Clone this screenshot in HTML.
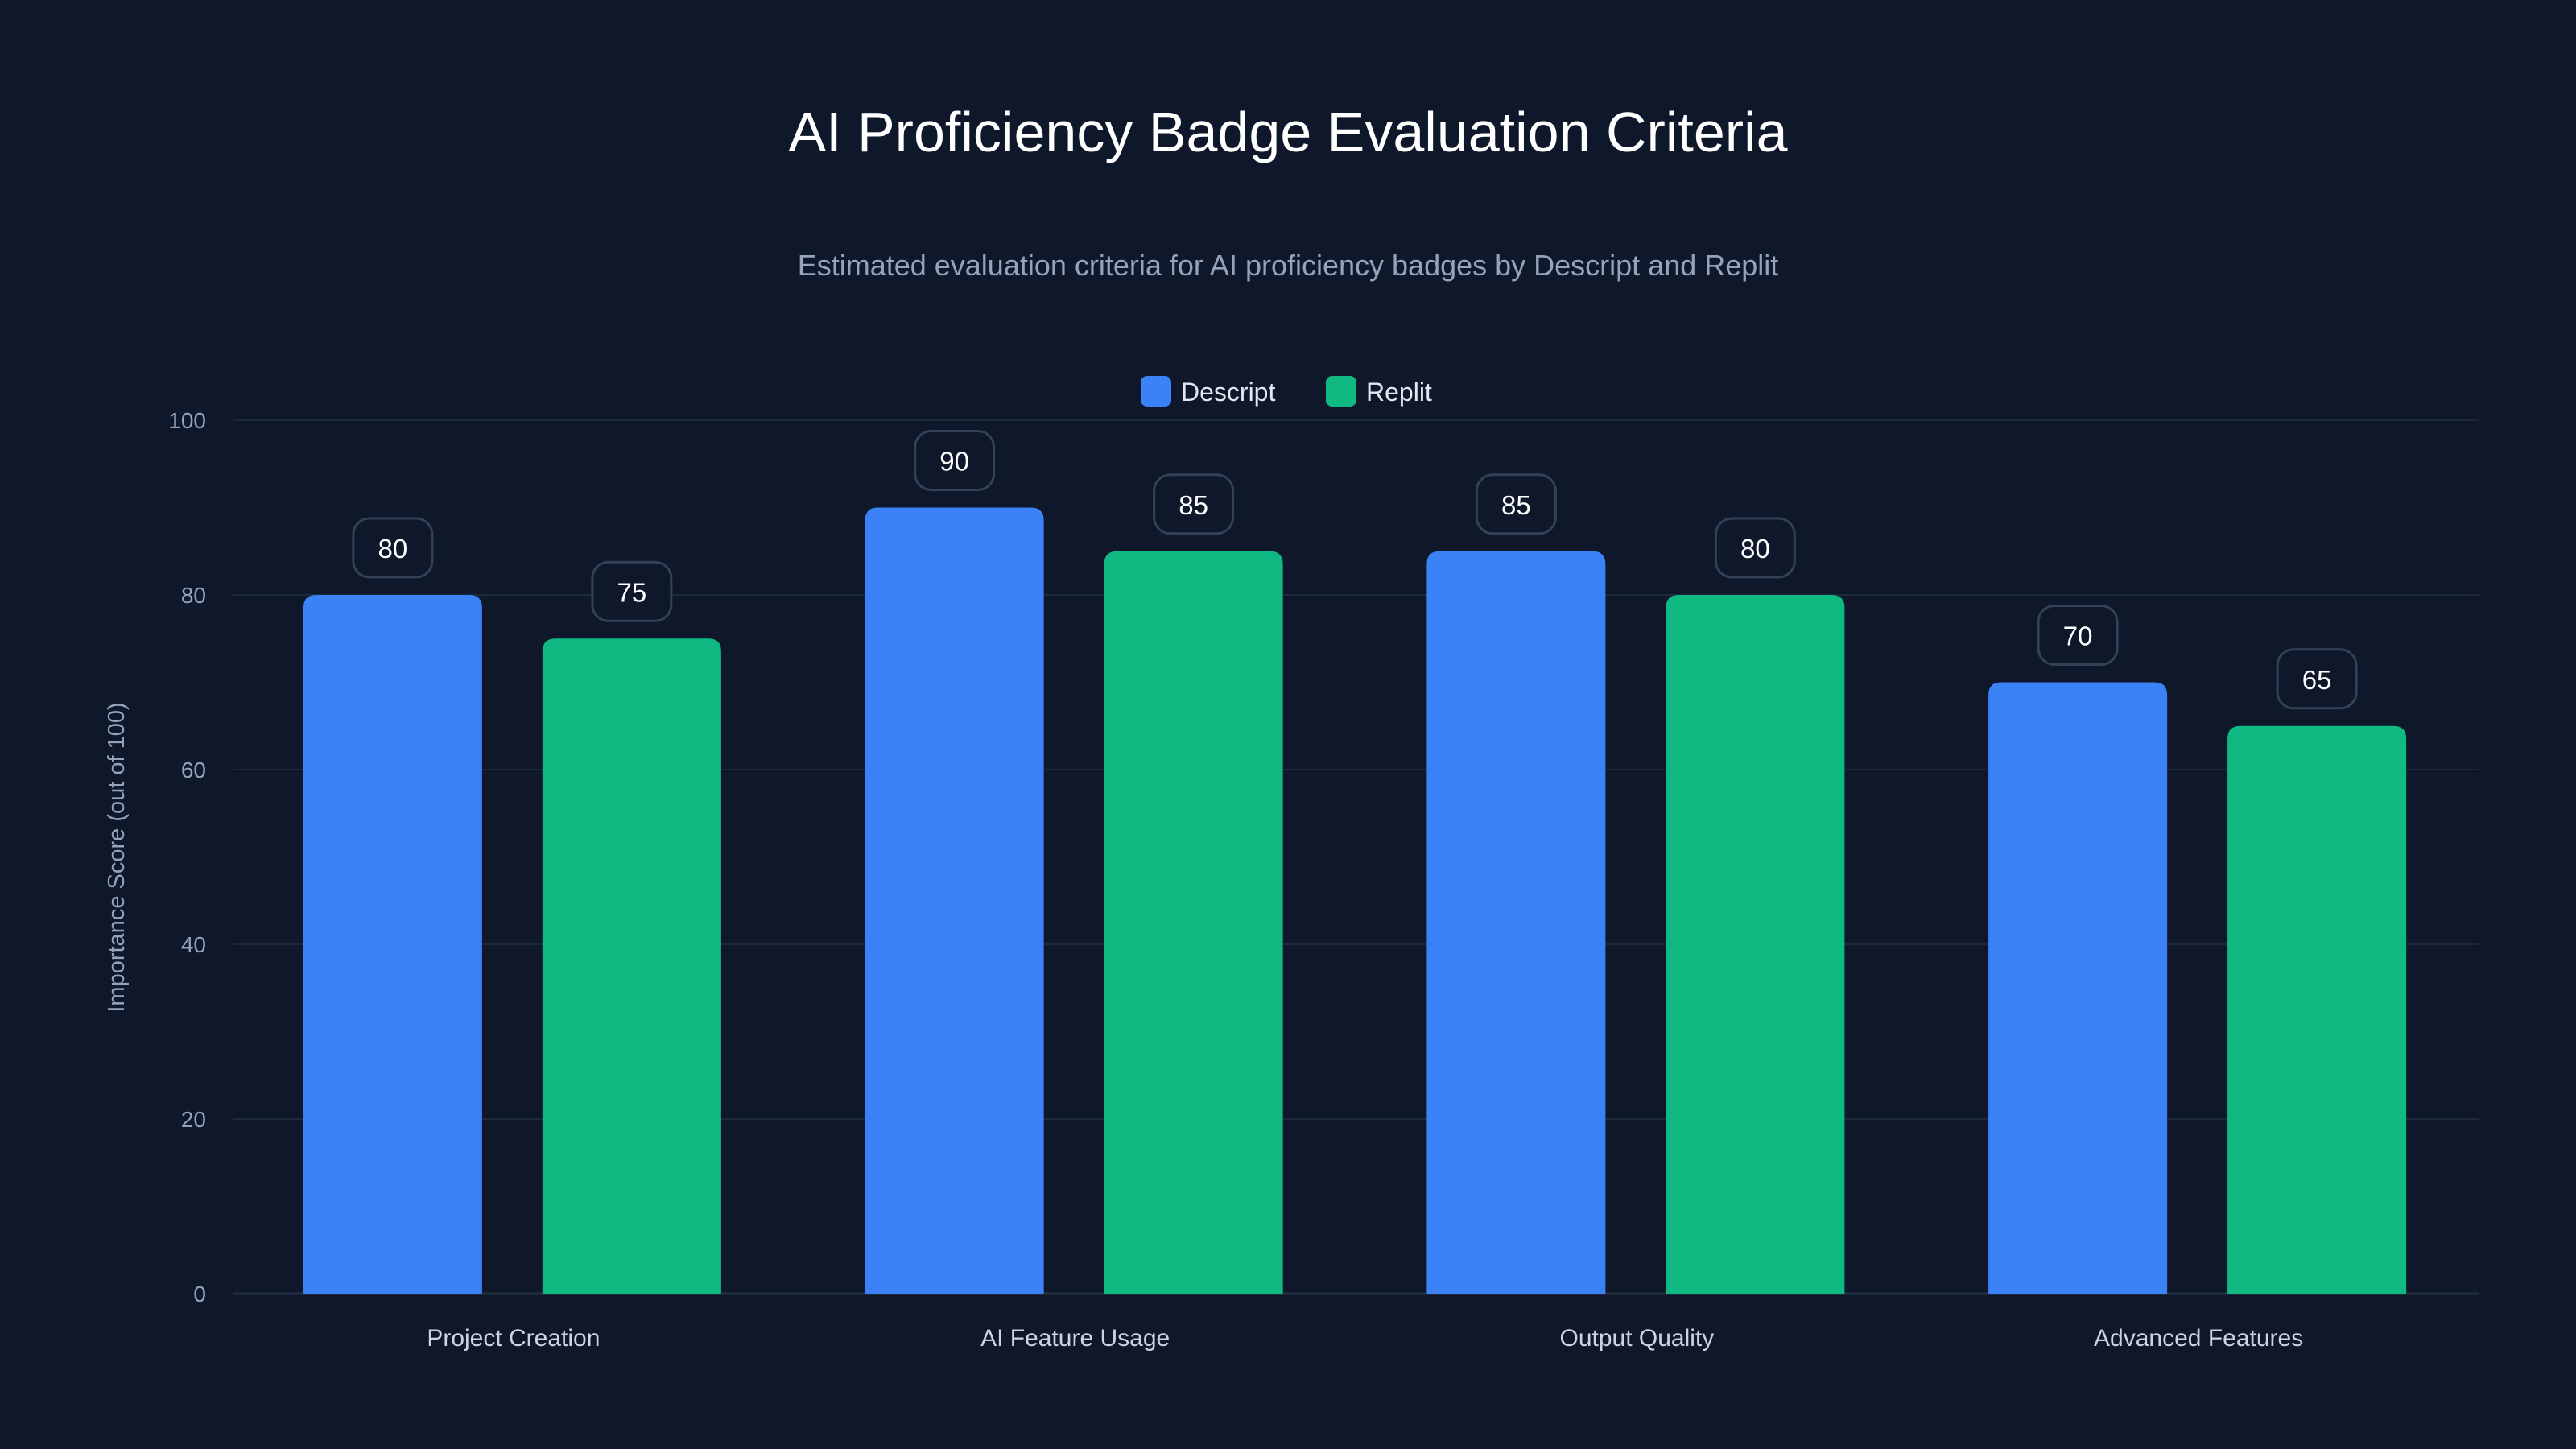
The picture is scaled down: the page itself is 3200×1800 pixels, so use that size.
<!DOCTYPE html>
<html><head><meta charset="utf-8"><style>
html,body{margin:0;padding:0;background:#0f172a;}
svg{display:block;font-family:"Liberation Sans",sans-serif;}
</style></head><body>
<svg id="chart" width="3200" height="1800" viewBox="0 0 3200 1800" xmlns="http://www.w3.org/2000/svg">
<rect x="0" y="0" width="3200" height="1800" fill="#0f172a"/>
<text x="1600" y="188" font-size="70" fill="#ffffff" text-anchor="middle">AI Proficiency Badge Evaluation Criteria</text>
<text x="1600" y="342" font-size="36" fill="#94a3b8" text-anchor="middle">Estimated evaluation criteria for AI proficiency badges by Descript and Replit</text>
<g>
<g>
<rect x="1417" y="467" width="38" height="38" rx="8" fill="#3b82f6"/>
<text x="1467" y="498" font-size="32" fill="#e2e8f0">Descript</text>
</g>
<g>
<rect x="1647" y="467" width="38" height="38" rx="8" fill="#10b981"/>
<text x="1697" y="498" font-size="32" fill="#e2e8f0">Replit</text>
</g>
</g>
<text transform="translate(154,1065) rotate(-90)" font-size="29" fill="#94a3b8" text-anchor="middle">Importance Score (out of 100)</text>
<g id="grid"></g>
<g id="yticks"></g>
<g id="bars"></g>
<g id="labels"></g>
<g id="xticks"></g>
</svg>
<script>
const categories = ["Project Creation","AI Feature Usage","Output Quality","Advanced Features"];
const descriptValues = [80,90,85,70];
const replitValues = [75,85,80,65];
const yTicks = [0,20,40,60,80,100];

const NS="http://www.w3.org/2000/svg";
const plotL=289, plotR=3080, plotT=522, plotB=1607;
const yMax=100;
function yScale(v){return plotB-(v/yMax)*(plotB-plotT);}
const band=(plotR-plotL)/categories.length;
function xBand(i){return plotL+band*(i+0.5);}
const barW=222, offs=[-150,147];
function mk(tag,attrs,parent){const e=document.createElementNS(NS,tag);for(const k in attrs)e.setAttribute(k,attrs[k]);parent.appendChild(e);return e;}
const grid=document.getElementById('grid'),yt=document.getElementById('yticks'),bars=document.getElementById('bars'),labs=document.getElementById('labels'),xt=document.getElementById('xticks');
yTicks.forEach(t=>{
  const y=yScale(t);
  const l=mk('line',{x1:plotL,x2:plotR,y1:y,y2:y,stroke:'#1e293b','stroke-width':t===0?4:2},grid);
  
  
  const tx=mk('text',{x:256,y:y+10,'font-size':28,fill:'#94a3b8','text-anchor':'end'},yt);
  tx.textContent=t;
  
  
});
function barPath(x,y,w,h,r){r=Math.min(r,h);return `M${x},${y+h}V${y+r}Q${x},${y} ${x+r},${y}H${x+w-r}Q${x+w},${y} ${x+w},${y+r}V${y+h}Z`;}
const series=[{name:'descript',vals:descriptValues,color:'#3b82f6'},{name:'replit',vals:replitValues,color:'#10b981'}];
categories.forEach((c,i)=>{
  series.forEach((s,si)=>{
    const v=s.vals[i];
    const cx=xBand(i)+offs[si];
    const y=yScale(v);
    const p=mk('path',{d:barPath(cx-barW/2,y,barW,plotB-y,16),fill:s.color},bars);
    
    
    const g=mk('g',{},labs);
    
    
    mk('rect',{x:cx-49,y:y-95,width:98,height:73,rx:20,fill:'#0f172a',stroke:'#334155','stroke-width':3},g);
    const t=mk('text',{x:cx,y:y-46,'font-size':33,fill:'#ffffff','text-anchor':'middle'},g);
    t.textContent=v;
  });
  const t=mk('text',{x:xBand(i),y:1672,'font-size':30,fill:'#cbd5e1','text-anchor':'middle'},xt);
  t.textContent=c;
  
  
});
</script>
</body></html>
